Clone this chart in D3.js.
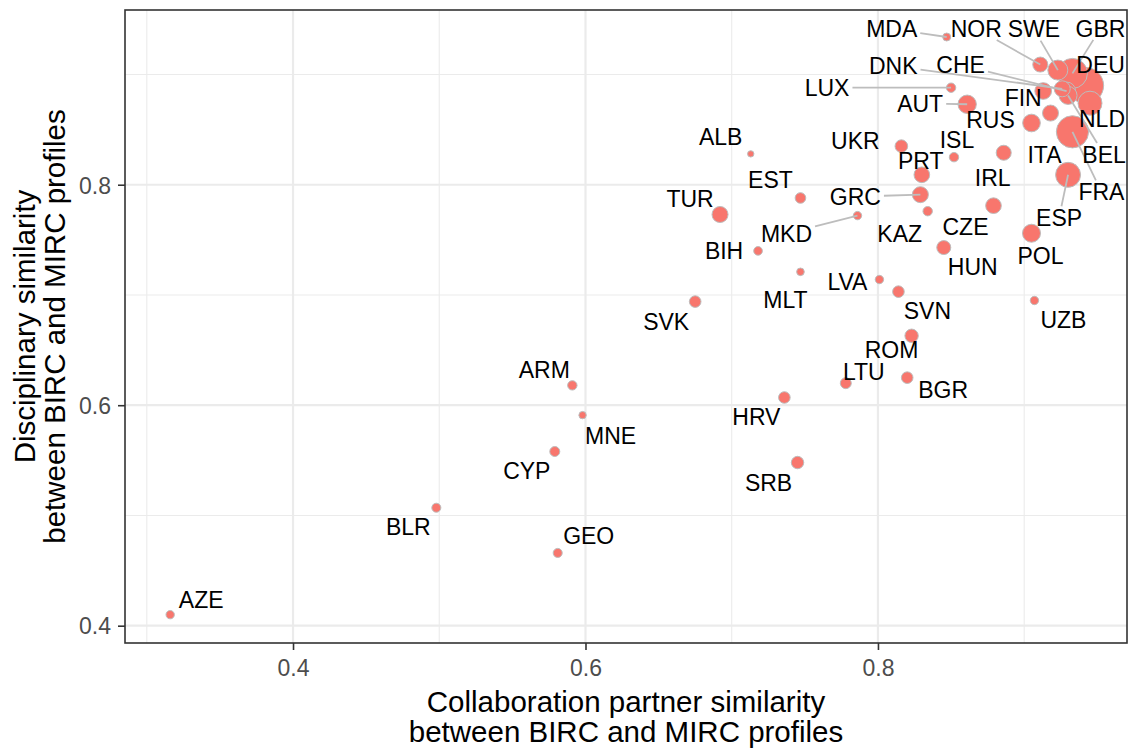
<!DOCTYPE html>
<html><head><meta charset="utf-8">
<script src="https://cdn.jsdelivr.net/npm/d3@7"></script>
<style>
body{margin:0;background:#fff}
svg{display:block}
text{font-family:"Liberation Sans",Arial,Helvetica,sans-serif}
</style>
</head><body>
<svg id="chart" width="1129" height="752"></svg>
<script>
// ---- data ----
const countries   = ["AZE","BLR","GEO","CYP","MNE","ARM","SVK","HRV","SRB","LTU","BGR","ROM","SVN","LVA","MLT","BIH","MKD","TUR","EST","ALB","GRC","KAZ","PRT","UKR","ISL","CZE","HUN","POL","UZB","IRL","MDA","LUX","AUT","NOR","SWE","GBR","DEU","NLD","FIN","DNK","CHE","BEL","RUS","ITA","FRA","ESP"];
const partnerSim  = [0.316,0.498,0.581,0.579,0.598,0.591,0.675,0.736,0.745,0.778,0.820,0.823,0.814,0.801,0.747,0.718,0.786,0.692,0.747,0.713,0.829,0.834,0.830,0.816,0.852,0.879,0.845,0.905,0.907,0.886,0.847,0.850,0.861,0.911,0.923,0.933,0.942,0.945,0.913,0.926,0.929,0.930,0.905,0.918,0.933,0.930];
const discSim     = [0.410,0.507,0.466,0.558,0.591,0.618,0.694,0.607,0.548,0.620,0.625,0.663,0.703,0.714,0.721,0.740,0.772,0.773,0.788,0.828,0.791,0.776,0.809,0.835,0.825,0.781,0.743,0.756,0.695,0.829,0.934,0.888,0.873,0.909,0.904,0.901,0.890,0.874,0.885,0.887,0.885,0.881,0.856,0.865,0.848,0.809];
const volume      = [5.4,6.3,6.3,7.7,4.2,6.8,10.4,10.4,11.9,9.3,10.4,13.8,10.4,5.4,4.5,5.8,5.4,19.8,8.7,3.1,19.8,6.8,18.9,12.3,6.8,18.9,15.1,25,5.4,17.4,4.9,6.8,26,17.4,30.9,69.4,100,44.4,21.5,19.8,25,25,24,19.8,80,48];
const xTicks = [0.4,0.6,0.8];
const yTicks = [0.4,0.6,0.8];
const xMinor = [0.3,0.5,0.7,0.9];
const yMinor = [0.5,0.7,0.9];
const xTitle = ["Collaboration partner similarity","between BIRC and MIRC profiles"];
const yTitle = ["Disciplinary similarity","between BIRC and MIRC profiles"];

// ---- label layout (pixel offsets from point, segment flag) ----
const labelLayout = {
 AZE:[31,-15,0],BLR:[-28,19,0],GEO:[31,-17,0],CYP:[-28,19,0],MNE:[28,21,0],ARM:[-28,-16,0],
 SVK:[-29,20,0],HRV:[-28,19,0],SRB:[-29,20,0],LTU:[18,-11,0],BGR:[36,12,0],ROM:[-20,14,0],
 SVN:[29,19,0],LVA:[-32,2,0],MLT:[-15,28,0],BIH:[-34,0,0],MKD:[-71,18,1],TUR:[-30,-16,0],
 EST:[-30,-18,0],ALB:[-30,-17,0],GRC:[-65,2,1],KAZ:[-28,23,0],PRT:[-1,-14,0],UKR:[-46,-5,0],
 ISL:[3,-17,0],CZE:[-28,21,0],HUN:[29,19,0],POL:[9,22,0],UZB:[29,19,0],IRL:[-11,25,0],
 MDA:[-55,-8,1],LUX:[-124,0,1],AUT:[-47,-1,1],NOR:[-64,-36,1],SWE:[-24,-41,1],GBR:[28,-45,1],
 DEU:[15,-21,0],NLD:[12,16,0],FIN:[-20,7,0],DNK:[-169,-23,1],CHE:[-106,-26,1],BEL:[36,59,1],
 RUS:[-41,-3,0],ITA:[-6,42,0],FRA:[29,60,1],ESP:[-9,43,1]
};

const data = countries.map((c,i)=>({c, x:partnerSim[i], y:discSim[i], v:volume[i]}));

const svg = d3.select("#chart");
const L=125, R=1127, T=10, B=643;
const x = d3.scaleLinear().domain([0.2851,0.9703]).range([L,R]);
const y = d3.scaleLinear().domain([0.3843,0.9585]).range([B,T]);
const r = d3.scaleSqrt().domain([0,100]).range([0,18]);
const FONT = '"Liberation Sans",Arial,sans-serif';

svg.append("rect").attr("width",1129).attr("height",752).attr("fill","#fff");

// grid
const grid = svg.append("g");
grid.selectAll(".vx").data(xMinor).join("line").attr("x1",d=>x(d)).attr("x2",d=>x(d)).attr("y1",T).attr("y2",B).attr("stroke","#ebebeb").attr("stroke-width",1.1);
grid.selectAll(".hy").data(yMinor).join("line").attr("y1",d=>y(d)).attr("y2",d=>y(d)).attr("x1",L).attr("x2",R).attr("stroke","#ebebeb").attr("stroke-width",1.1);
grid.selectAll(".VX").data(xTicks).join("line").attr("x1",d=>x(d)).attr("x2",d=>x(d)).attr("y1",T).attr("y2",B).attr("stroke","#ebebeb").attr("stroke-width",2.2);
grid.selectAll(".HY").data(yTicks).join("line").attr("y1",d=>y(d)).attr("y2",d=>y(d)).attr("x1",L).attr("x2",R).attr("stroke","#ebebeb").attr("stroke-width",2.2);

// points
const pts = data.slice().sort((a,b)=>b.v-a.v);
svg.append("g").selectAll("circle").data(pts).join("circle")
  .attr("cx",d=>x(d.x)).attr("cy",d=>y(d.y)).attr("r",d=>r(d.v))
  .attr("fill","#F8766D").attr("stroke","#bdbdbd").attr("stroke-width",1);

// labels + segments
const segG = svg.append("g");
const labG = svg.append("g");
data.forEach(d=>{
  const lay = labelLayout[d.c];
  const px=x(d.x), py=y(d.y);
  const cx=px+lay[0], cy=py+lay[1];
  const t = labG.append("text").attr("x",cx).attr("y",cy).attr("dy","0.36em")
    .attr("text-anchor","middle").attr("font-size",23).attr("fill","#000").text(d.c);
  if(lay[2]){
    const w = t.node().getComputedTextLength();
    const hw=w/2+3, hh=8.5+3;
    const dx=px-cx, dy=py-cy;
    const tx = dx!==0 ? hw/Math.abs(dx) : Infinity;
    const ty = dy!==0 ? hh/Math.abs(dy) : Infinity;
    const tt = Math.min(tx,ty);
    segG.append("line").attr("x1",cx+dx*tt).attr("y1",cy+dy*tt).attr("x2",px).attr("y2",py)
      .attr("stroke","#bdbdbd").attr("stroke-width",1.8);
  }
});

// panel border
svg.append("rect").attr("x",L).attr("y",T).attr("width",R-L).attr("height",B-T)
  .attr("fill","none").attr("stroke","#333333").attr("stroke-width",1.6);

// axes
const xa = svg.append("g").attr("transform",`translate(0,${B})`)
  .call(d3.axisBottom(x).tickValues(xTicks).tickSize(7).tickPadding(6).tickFormat(d3.format(".1f")));
const ya = svg.append("g").attr("transform",`translate(${L},0)`)
  .call(d3.axisLeft(y).tickValues(yTicks).tickSize(7).tickPadding(7).tickFormat(d3.format(".1f")));
[xa,ya].forEach(a=>{
  a.select(".domain").remove();
  a.selectAll(".tick line").attr("stroke","#333333").attr("stroke-width",1.6);
  a.selectAll(".tick text").attr("fill","#4d4d4d").attr("font-size",23).attr("font-family",FONT);
});
xa.selectAll(".tick text").attr("dy",null).attr("y",33);
ya.selectAll(".tick text").attr("dy","0.36em");

// titles
const xt = svg.append("text").attr("text-anchor","middle").attr("font-size",29.5).attr("fill","#000");
xt.selectAll("tspan").data(xTitle).join("tspan").attr("x",(L+R)/2).attr("y",(d,i)=>712+i*30).text(d=>d);
const yt = svg.append("text").attr("transform",`translate(0,${(T+B)/2}) rotate(-90)`).attr("text-anchor","middle").attr("font-size",29.5).attr("fill","#000");
yt.selectAll("tspan").data(yTitle).join("tspan").attr("x",0).attr("y",(d,i)=>35+i*30).text(d=>d);
</script>
</body></html>
